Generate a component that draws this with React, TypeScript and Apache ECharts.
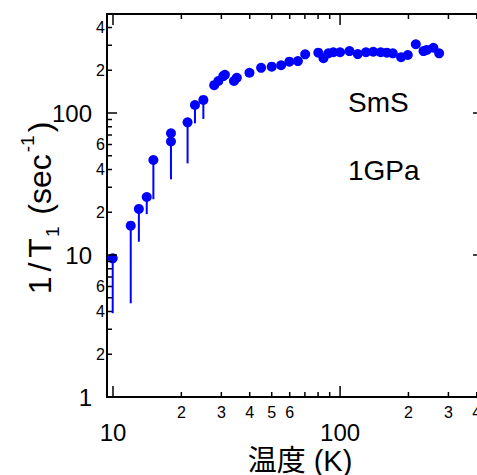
import React, { useEffect, useRef } from "react";
import * as echarts from "echarts";

// Measured data: temperature (K) and 1/T1 (sec^-1)
const temperature = [9.97, 11.97, 13.0, 14.08, 15.06, 18.0, 18.0, 21.3, 22.96, 25.0, 27.9, 29.1, 30.6, 31.1, 34.1, 35.1, 39.9, 44.9, 50.0, 55.0, 59.8, 65.2, 70.2, 80.2, 84.5, 88.8, 93.4, 100, 110, 119.6, 130, 140, 151, 160.6, 170.7, 185.6, 198.7, 215.6, 233, 241, 257.6, 273];
const relaxRate = [9.48, 16.1, 21.1, 25.6, 46.7, 63, 72, 86, 113.8, 123.6, 157, 168, 182, 186, 168, 177, 192, 208, 212, 217, 230, 232, 259, 266, 243, 263, 268, 268, 273, 260, 268, 270, 268, 266, 263, 247, 256, 305, 273, 278, 288, 263];

// Error bars (downward only)
const errTemperature = [9.97, 11.97, 13.0, 14.08, 15.06, 18.0, 21.3, 22.96, 25.0];
const errUpper = [9.48, 16.1, 21.1, 25.6, 46.7, 63, 86, 113.8, 123.6];
const errLower = [3.89, 4.57, 12.4, 19.4, 24.7, 34.1, 44.2, 84.6, 90.8];

// Axis ticks and labels
const xMajorTicks = [10, 100];
const xMinorTicks = [20, 30, 40, 50, 60, 70, 80, 90, 200, 300, 400];
const xMajorLabelValues = [10, 100];
const xMajorLabels = ["10", "100"];
const xMinorLabelValues = [20, 30, 40, 50, 60, 200, 300, 400];
const xMinorLabels = ["2", "3", "4", "5", "6", "2", "3", "4"];

const yMajorTicks = [10, 100];
const yMinorTicks = [2, 3, 4, 5, 6, 7, 8, 9, 20, 30, 40, 50, 60, 70, 80, 90, 200, 300, 400];
const yMajorLabelValues = [1, 10, 100];
const yMajorLabels = ["1", "10", "100"];
const yMinorLabelValues = [2, 4, 6, 20, 40, 60, 200, 400];
const yMinorLabels = ["2", "4", "6", "2", "4", "6", "2", "4"];

const X_MIN = 9.41;
const X_MAX = 426;
const Y_MIN = 1;
const Y_MAX = 498;

const LATIN = "'Liberation Sans', Arial, sans-serif";
const BLUE = "#0000ff";

function textStyle(text: string, fontSize: number, align: string, vAlign: string) {
  return {
    text,
    fontSize,
    fontFamily: LATIN,
    fill: "#000",
    align,
    verticalAlign: vAlign,
    textAlign: align,
    textVerticalAlign: vAlign,
  };
}

function xTickSeries(values: number[], len: number) {
  return {
    type: "custom",
    coordinateSystem: "cartesian2d",
    clip: false,
    silent: true,
    z: 5,
    encode: { x: 0, y: 1 },
    data: values.map((v) => [v, 10]),
    renderItem: (params: any, api: any) => {
      const cs = params.coordSys;
      const x = api.coord([api.value(0), 10])[0];
      const bottom = cs.y + cs.height;
      return {
        type: "group",
        children: [
          { type: "line", shape: { x1: x, y1: bottom, x2: x, y2: bottom - len }, style: { stroke: "#000", lineWidth: 1.5 } },
          { type: "line", shape: { x1: x, y1: cs.y, x2: x, y2: cs.y + len }, style: { stroke: "#000", lineWidth: 1.5 } },
        ],
      };
    },
  };
}

function yTickSeries(values: number[], len: number) {
  return {
    type: "custom",
    coordinateSystem: "cartesian2d",
    clip: false,
    silent: true,
    z: 5,
    encode: { x: 0, y: 1 },
    data: values.map((v) => [10, v]),
    renderItem: (params: any, api: any) => {
      const cs = params.coordSys;
      const y = api.coord([10, api.value(1)])[1];
      const right = cs.x + cs.width;
      return {
        type: "group",
        children: [
          { type: "line", shape: { x1: cs.x, y1: y, x2: cs.x + len, y2: y }, style: { stroke: "#000", lineWidth: 1.5 } },
          { type: "line", shape: { x1: right, y1: y, x2: right - len, y2: y }, style: { stroke: "#000", lineWidth: 1.5 } },
        ],
      };
    },
  };
}

function xLabelSeries(values: number[], labels: string[], fontSize: number, offset: number) {
  return {
    type: "custom",
    coordinateSystem: "cartesian2d",
    clip: false,
    silent: true,
    z: 5,
    encode: { x: 0, y: 1 },
    data: values.map((v) => [v, 10]),
    renderItem: (params: any, api: any) => {
      const cs = params.coordSys;
      const x = api.coord([api.value(0), 10])[0];
      return {
        type: "text",
        x,
        y: cs.y + cs.height + offset,
        style: textStyle(labels[params.dataIndex], fontSize, "center", "middle"),
      };
    },
  };
}

function yLabelSeries(values: number[], labels: string[], fontSize: number, rightX: number) {
  return {
    type: "custom",
    coordinateSystem: "cartesian2d",
    clip: false,
    silent: true,
    z: 5,
    encode: { x: 0, y: 1 },
    data: values.map((v) => [10, v]),
    renderItem: (params: any, api: any) => {
      const y = api.coord([10, api.value(1)])[1];
      return {
        type: "text",
        x: rightX,
        y,
        style: textStyle(labels[params.dataIndex], fontSize, "right", "middle"),
      };
    },
  };
}

export default function App() {
  const ref = useRef<HTMLDivElement>(null);

  useEffect(() => {
    if (!ref.current) return;
    const chart = echarts.init(ref.current, undefined, { renderer: "svg" });

    const points = temperature.map((t, i) => [t, relaxRate[i]]);
    const errors = errTemperature.map((t, i) => [t, errUpper[i], errLower[i]]);

    chart.setOption({
      animation: false,
      backgroundColor: "#fff",
      grid: {
        left: 107,
        top: 14,
        width: 376,
        height: 383,
        outerBoundsMode: "none",
        containLabel: false,
        show: true,
        borderColor: "#000",
        borderWidth: 2,
        backgroundColor: "transparent",
      },
      xAxis: {
        type: "log",
        logBase: 10,
        min: X_MIN,
        max: X_MAX,
        axisLine: { show: false },
        axisTick: { show: false },
        axisLabel: { show: false },
        splitLine: { show: false },
      },
      yAxis: {
        type: "log",
        logBase: 10,
        min: Y_MIN,
        max: Y_MAX,
        axisLine: { show: false },
        axisTick: { show: false },
        axisLabel: { show: false },
        splitLine: { show: false },
      },
      graphic: [
        {
          type: "text",
          x: 348,
          y: 102,
          style: textStyle("SmS", 28, "left", "middle"),
        },
        {
          type: "text",
          x: 348,
          y: 170,
          style: textStyle("1GPa", 28, "left", "middle"),
        },
        {
          type: "text",
          x: 300,
          y: 461,
          style: {
            ...textStyle("温度 (K)", 29, "center", "middle"),
            fontFamily: "'Liberation Sans', 'Noto Sans CJK JP', sans-serif",
          },
        },
        {
          type: "text",
          x: 40,
          y: 208,
          rotation: Math.PI / 2,
          style: {
            text: "{a|1}{s|/}{a|T}{sub|1}{a| (sec}{sup|-1}{a|)}",
            fill: "#000",
            align: "center",
            verticalAlign: "middle",
            textAlign: "center",
            textVerticalAlign: "middle",
            rich: {
              a: { fontSize: 32, fontFamily: LATIN, lineHeight: 44, fill: "#000" },
              s: { fontSize: 32, fontFamily: LATIN, lineHeight: 44, fill: "#000", padding: [0, 5, 0, 5] },
              sub: { fontSize: 19, fontFamily: LATIN, lineHeight: 19, verticalAlign: "bottom", fill: "#000", padding: [0, 3, 0, 1] },
              sup: { fontSize: 19, fontFamily: LATIN, lineHeight: 19, verticalAlign: "top", fill: "#000", padding: [0, 3, 0, 2] },
            },
          },
        },
      ],
      series: [
        {
          type: "custom",
          coordinateSystem: "cartesian2d",
          silent: true,
          z: 2,
          encode: { x: 0, y: 1 },
          data: errors,
          renderItem: (params: any, api: any) => {
            const p1 = api.coord([api.value(0), api.value(1)]);
            const p2 = api.coord([api.value(0), api.value(2)]);
            return {
              type: "line",
              shape: { x1: p1[0], y1: p1[1], x2: p2[0], y2: p2[1] },
              style: { stroke: BLUE, lineWidth: 2 },
            };
          },
        },
        {
          type: "scatter",
          z: 3,
          symbol: "circle",
          symbolSize: 10,
          itemStyle: { color: BLUE, opacity: 1 },
          data: points,
        },
        xTickSeries(xMajorTicks, 11),
        xTickSeries(xMinorTicks, 5),
        yTickSeries(yMajorTicks, 10),
        yTickSeries(yMinorTicks, 5),
        xLabelSeries(xMinorLabelValues, xMinorLabels, 16, 15),
        xLabelSeries(xMajorLabelValues, xMajorLabels, 24, 35),
        yLabelSeries(yMinorLabelValues, yMinorLabels, 16, 105),
        yLabelSeries(yMajorLabelValues, yMajorLabels, 24, 92),
      ],
    });

    return () => chart.dispose();
  }, []);

  return (
    <div
      ref={ref}
      style={{ position: "absolute", left: 0, top: 0, width: 477, height: 475 }}
    />
  );
}
